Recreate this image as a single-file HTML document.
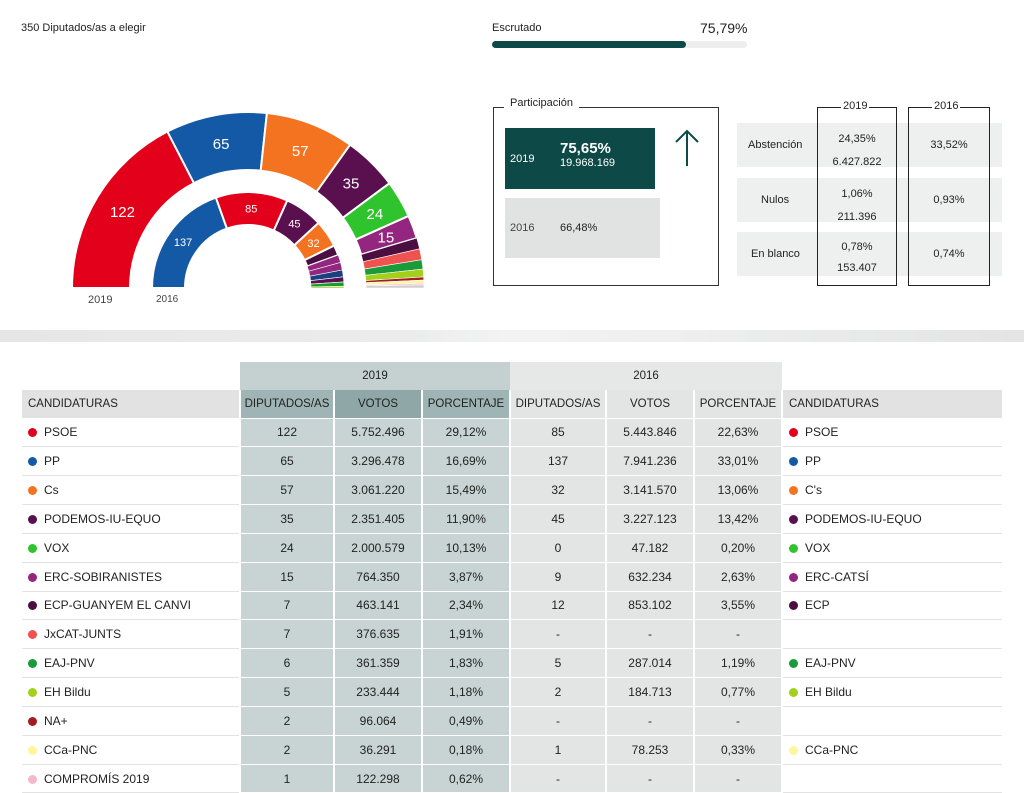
<!DOCTYPE html>
<html><head><meta charset="utf-8">
<style>
*{box-sizing:border-box;margin:0;padding:0}
body{width:1024px;height:790px;overflow:hidden;background:#fff;font-family:"Liberation Sans",sans-serif;color:#222;position:relative}
.abs{position:absolute}
.t{font-size:11px}
table{border-collapse:collapse;table-layout:fixed;position:absolute;left:22px;top:362px;font-size:12px}
td,th{height:28.85px;font-weight:normal;text-align:center;padding:0;white-space:nowrap}
th{height:28px;font-size:11.5px}
.y19{background:#c8d3d3;border-left:2px solid #fff;border-right:2px solid #fff;border-bottom:1px solid #fff}
.h19{background:#9fb4b4}
.y16{background:#e3e5e5;border-left:2px solid #fff;border-right:2px solid #fff;border-bottom:1px solid #fff}
.cand{text-align:left;padding-left:6px;border-bottom:1px solid #e2e2e2}
.ch{background:#e2e2e2;text-align:left;padding-left:6px}
.dot{display:inline-block;width:9px;height:9px;border-radius:50%;margin-right:7px;vertical-align:-1px}
</style></head><body>
<div class="abs" style="left:0;top:0;width:1024px;height:330px;background:#fff"></div>
<div class="abs" style="left:0;top:330px;width:1024px;height:12px;background:linear-gradient(90deg,#e6e6e6,#ececec 40%,#f2f4f4 50%,#e4e4e4)"></div>
<div class="abs t" style="left:21px;top:22px">350 Diputados/as a elegir</div>

<svg class="abs" style="left:0;top:0" width="480" height="320" id="hemi"></svg>
<div class="abs t" style="left:88px;top:294px;color:#444">2019</div>
<div class="abs" style="left:156px;top:294px;font-size:10px;color:#444">2016</div>

<div class="abs t" style="left:492px;top:22px">Escrutado</div>
<div class="abs" style="left:700px;top:20px;font-size:14px">75,79%</div>
<div class="abs" style="left:492px;top:41px;width:255px;height:7px;background:#eee;border-radius:4px"></div>
<div class="abs" style="left:492px;top:41px;width:194px;height:7px;background:#0d4a47;border-radius:4px"></div>

<div class="abs" style="left:493px;top:107px;width:226px;height:179px;border:1px solid #333"></div>
<div class="abs t" style="left:504px;top:97px;background:#fff;padding:0 6px">Participación</div>
<div class="abs" style="left:505px;top:128px;width:150px;height:61px;background:#0d4a47;color:#fff">
 <div class="abs t" style="left:5px;top:25px">2019</div>
 <div class="abs" style="left:55px;top:12px;font-size:15px;font-weight:bold">75,65%</div>
 <div class="abs t" style="left:55px;top:29px">19.968.169</div>
</div>
<div class="abs" style="left:505px;top:198px;width:155px;height:60px;background:#e1e3e3">
 <div class="abs t" style="left:5px;top:24px;color:#444">2016</div>
 <div class="abs t" style="left:55px;top:24px">66,48%</div>
</div>
<svg class="abs" style="left:674px;top:128px" width="26" height="40"><path d="M13 38V3M2 14L13 3 24 14" stroke="#0d4a47" stroke-width="2" fill="none"/></svg>

<div class="abs" style="left:737px;top:123px;width:265px;height:44px;background:#eef0f0"></div>
<div class="abs" style="left:737px;top:178px;width:265px;height:44px;background:#eef0f0"></div>
<div class="abs" style="left:737px;top:232px;width:265px;height:44px;background:#eef0f0"></div>
<div class="abs" style="left:817px;top:107px;width:80px;height:179px;border:1px solid #222"></div>
<div class="abs" style="left:908px;top:107px;width:82px;height:179px;border:1px solid #222"></div>
<div class="abs t" style="left:841px;top:100px;background:#fff;padding:0 2px">2019</div>
<div class="abs t" style="left:932px;top:100px;background:#fff;padding:0 2px">2016</div>
<div class="abs t" style="left:748px;top:139px">Abstención</div>
<div class="abs t" style="left:761px;top:194px">Nulos</div>
<div class="abs t" style="left:751px;top:248px">En blanco</div>
<div class="abs t" style="left:818px;width:78px;text-align:center;top:128px;line-height:23px">24,35%<br>6.427.822</div>
<div class="abs t" style="left:818px;width:78px;text-align:center;top:183px;line-height:23px">1,06%<br>211.396</div>
<div class="abs t" style="left:818px;width:78px;text-align:center;top:237px;line-height:21px">0,78%<br>153.407</div>
<div class="abs t" style="left:909px;width:80px;text-align:center;top:139px">33,52%</div>
<div class="abs t" style="left:909px;width:80px;text-align:center;top:194px">0,93%</div>
<div class="abs t" style="left:909px;width:80px;text-align:center;top:248px">0,74%</div>

<table id="tbl">
<colgroup><col style="width:218px"><col style="width:94px"><col style="width:88px"><col style="width:88px"><col style="width:96px"><col style="width:88px"><col style="width:88px"><col style="width:220px"></colgroup>
<tr><th></th><th colspan="3" style="background:#c5d1d1">2019</th><th colspan="3" style="background:#e6e8e8">2016</th><th></th></tr>
<tr><th class="ch">CANDIDATURAS</th><th class="y19 h19">DIPUTADOS/AS</th><th class="y19" style="background:#8fa7a7">VOTOS</th><th class="y19 h19">PORCENTAJE</th><th class="y16">DIPUTADOS/AS</th><th class="y16">VOTOS</th><th class="y16">PORCENTAJE</th><th class="ch">CANDIDATURAS</th></tr>
</table>

<script>
// Hemicycle data
const parties2019 = ["PSOE","PP","Cs","PODEMOS","VOX","ERC","ECP","JxCAT","PNV","Bildu","NA+","CCa","Compromís","Otros"];
const seats2019 = [122,65,57,35,24,15,7,7,6,5,2,2,1,2];
const colors2019 = ["#e2001a","#1459a6","#f47321","#5a0f4f","#2fc42d","#93267f","#4a0e40","#ef5350","#1b9a3a","#a3d01a","#a31c22","#fff59a","#f4b8c8","#cfcfcf"];
const parties2016 = ["PP","PSOE","PODEMOS","Cs","ECP","Compromís","ERC","CDC","En Marea","PNV","Bildu","CC"];
const seats2016 = [137,85,45,32,12,9,9,8,6,5,2,0];
const colors2016 = ["#1459a6","#e2001a","#5a0f4f","#f47321","#4a0e40","#93267f","#93267f","#1b3f80","#5a0f4f","#1b9a3a","#a3d01a","#fff59a"];
const NS="http://www.w3.org/2000/svg";
const svg=document.getElementById('hemi');
const cx=248, cy=288;
function pt(r,a){return [cx+r*Math.cos(a), cy-r*Math.sin(a)];}
function ring(names,seats,cols,r0,r1,fs,minLabel){
  const total=seats.reduce((a,b)=>a+b,0);
  let acc=0;
  seats.forEach((s,i)=>{
    const a0=Math.PI*(1-acc/total), a1=Math.PI*(1-(acc+s)/total);
    acc+=s;
    if(s<=0) return;
    const p1=pt(r1,a0),p2=pt(r1,a1),p3=pt(r0,a1),p4=pt(r0,a0);
    const p=document.createElementNS(NS,'path');
    p.setAttribute('d',`M${p1}A${r1},${r1} 0 0 1 ${p2}L${p3}A${r0},${r0} 0 0 0 ${p4}Z`);
    p.setAttribute('fill',cols[i]);
    p.setAttribute('stroke','#fff');
    p.setAttribute('stroke-width',s>=10?'2':'0.6');
    
    
    svg.appendChild(p);
    if(s>=minLabel){
      const m=pt((r0+r1)/2,(a0+a1)/2);
      const t=document.createElementNS(NS,'text');
      t.setAttribute('x',m[0]);t.setAttribute('y',m[1]+fs*0.36);
      t.setAttribute('text-anchor','middle');t.setAttribute('fill','#fff');
      t.setAttribute('font-size',fs);t.setAttribute('font-family','Liberation Sans, sans-serif');
      
      
      t.textContent=s;
      svg.appendChild(t);
    }
  });
}
ring(parties2019,seats2019,colors2019,118,176,15,15);
ring(parties2016,seats2016,colors2016,63,96,11,30);

// Table data
const cands2019=["PSOE","PP","Cs","PODEMOS-IU-EQUO","VOX","ERC-SOBIRANISTES","ECP-GUANYEM EL CANVI","JxCAT-JUNTS","EAJ-PNV","EH Bildu","NA+","CCa-PNC","COMPROMÍS 2019"];
const dotColors=["#e2001a","#1459a6","#f47321","#5a0f4f","#2fc42d","#93267f","#4a0e40","#ef5350","#1b9a3a","#a3d01a","#a31c22","#fff59a","#f4b8c8"];
const dip2019=["122","65","57","35","24","15","7","7","6","5","2","2","1"];
const votos2019=["5.752.496","3.296.478","3.061.220","2.351.405","2.000.579","764.350","463.141","376.635","361.359","233.444","96.064","36.291","122.298"];
const pct2019=["29,12%","16,69%","15,49%","11,90%","10,13%","3,87%","2,34%","1,91%","1,83%","1,18%","0,49%","0,18%","0,62%"];
const dip2016=["85","137","32","45","0","9","12","-","5","2","-","1","-"];
const votos2016=["5.443.846","7.941.236","3.141.570","3.227.123","47.182","632.234","853.102","-","287.014","184.713","-","78.253","-"];
const pct2016=["22,63%","33,01%","13,06%","13,42%","0,20%","2,63%","3,55%","-","1,19%","0,77%","-","0,33%","-"];
const cands2016=["PSOE","PP","C's","PODEMOS-IU-EQUO","VOX","ERC-CATSÍ","ECP","","EAJ-PNV","EH Bildu","","CCa-PNC",""];
const tbl=document.getElementById('tbl');
cands2019.forEach((c,i)=>{
  const tr=document.createElement('tr');
  
  
  const dot=`<span class="dot" style="background:${dotColors[i]}"></span>`;
  tr.innerHTML=`<td class="cand">${dot}${c}</td><td class="y19">${dip2019[i]}</td><td class="y19">${votos2019[i]}</td><td class="y19">${pct2019[i]}</td><td class="y16">${dip2016[i]}</td><td class="y16">${votos2016[i]}</td><td class="y16">${pct2016[i]}</td><td class="cand">${cands2016[i]?dot+cands2016[i]:''}</td>`;
  tbl.appendChild(tr);
});
</script>
</body></html>
